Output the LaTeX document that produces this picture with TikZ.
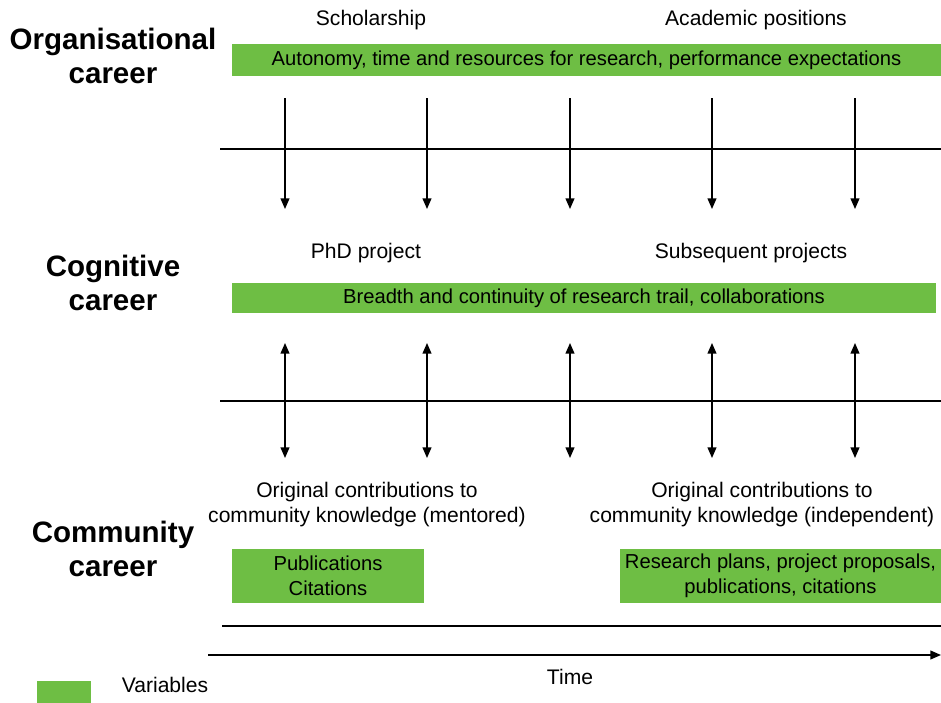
\documentclass[tikz,border=0pt]{standalone}
\usepackage{fontspec}
\setmainfont{Liberation Sans}
\usetikzlibrary{arrows.meta}
\definecolor{vargreen}{RGB}{110,190,68}
\tikzset{
  var/.style={fill=vargreen,inner sep=0pt,align=center,font=\fontsize{11.5}{14.2}\selectfont},
  lbl/.style={align=center,font=\fontsize{12}{14.2}\selectfont},
  head/.style={align=center,font=\bfseries\fontsize{16.8}{19.8}\selectfont},
  tip/.style={line width=0.8pt,-{Triangle[width=5pt,length=6pt]}},
  tips/.style={line width=0.8pt,{Triangle[width=5pt,length=6pt]}-{Triangle[width=5pt,length=6pt]}},
}
\begin{document}
\begin{tikzpicture}[x=0.02cm,y=-0.02cm]
\useasboundingbox (0,0) rectangle (941,703);

% organisational career
\node[head](orghead) at (113,56) {Organisational\\career};
\node[lbl](schol) at (371,20) {Scholarship};
\node[lbl](acad) at (756,20) {Academic positions};
\node[var,minimum width=14.18cm,minimum height=0.64cm](orgvar) at (586.5,60) {Autonomy, time and resources for research, performance expectations};

\coordinate(ol) at (220,149);
\coordinate(or) at (941,149);
\draw[line width=1pt] (ol) -- (or);

\coordinate(o1) at (285,98);  \coordinate(o1n) at (285,209);
\coordinate(o2) at (427,98);  \coordinate(o2n) at (427,209);
\coordinate(o3) at (570,98);  \coordinate(o3n) at (570,209);
\coordinate(o4) at (712,98);  \coordinate(o4n) at (712,209);
\coordinate(o5) at (855,98);  \coordinate(o5n) at (855,209);

\draw[tip] (o1) -- (o1n);
\draw[tip] (o2) -- (o2n);
\draw[tip] (o3) -- (o3n);
\draw[tip] (o4) -- (o4n);
\draw[tip] (o5) -- (o5n);

% cognitive career
\node[head](coghead) at (113,283) {Cognitive\\career};
\node[lbl](phd) at (366,253) {PhD project};
\node[lbl](subs) at (751,253) {Subsequent projects};
\node[var,minimum width=14.08cm,minimum height=0.6cm](cogvar) at (584,298) {Breadth and continuity of research trail, collaborations};

\coordinate(cl) at (220,401);
\coordinate(cr) at (941,401);
\draw[line width=1pt] (cl) -- (cr);

\coordinate(c1) at (285,343);  \coordinate(c1n) at (285,458);
\coordinate(c2) at (427,343);  \coordinate(c2n) at (427,458);
\coordinate(c3) at (570,343);  \coordinate(c3n) at (570,458);
\coordinate(c4) at (712,343);  \coordinate(c4n) at (712,458);
\coordinate(c5) at (855,343);  \coordinate(c5n) at (855,458);

\draw[tips] (c1) -- (c1n);
\draw[tips] (c2) -- (c2n);
\draw[tips] (c3) -- (c3n);
\draw[tips] (c4) -- (c4n);
\draw[tips] (c5) -- (c5n);

% community career
\node[head](comhead) at (113,549) {Community\\career};
\node[lbl](ment) at (367,505) {Original contributions to\\community knowledge (mentored)};
\node[lbl](indep) at (762,505) {Original contributions to\\community knowledge (independent)};
\node[var,minimum width=3.84cm,minimum height=1.08cm](comvar1) at (328,576) {Publications\\Citations};
\node[var,minimum width=6.42cm,minimum height=1.08cm](comvar2) at (780.5,576) {Research plans, project proposals,\\publications, citations};

\coordinate(ml) at (222,626);
\coordinate(mr) at (941,626);
\draw[line width=1pt] (ml) -- (mr);

% time axis
\coordinate(t0) at (208,655);
\coordinate(t1) at (941,655);
\draw[tip] (t0) -- (t1);
\node[lbl](time) at (570,677) {Time};

% legend
\node[fill=vargreen,minimum width=1.08cm,minimum height=0.44cm,inner sep=0pt](leg) at (64,692) {};
\node[lbl](legtext) at (165,685) {Variables};

\end{tikzpicture}
\end{document}
